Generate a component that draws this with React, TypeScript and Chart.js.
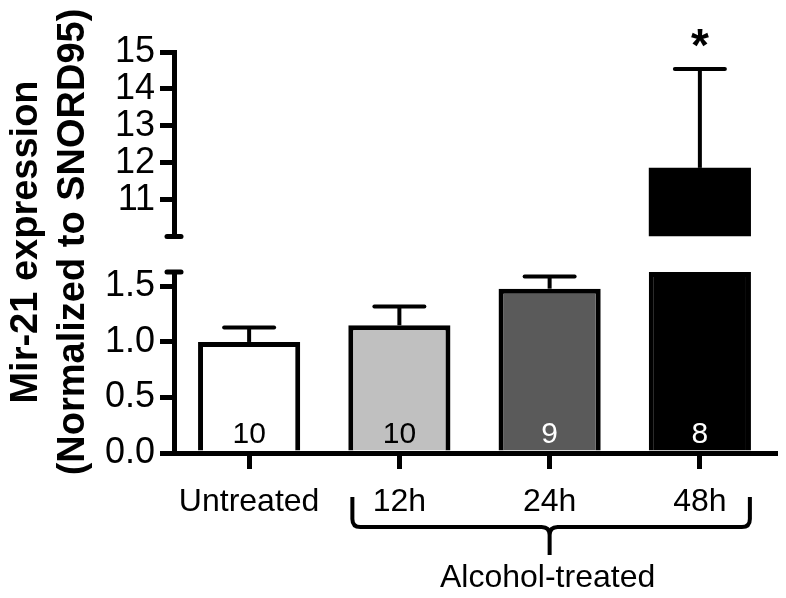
import React, { useEffect, useRef } from 'react';
import { Chart, registerables } from 'chart.js';

Chart.register(...registerables);

const categories = ['Untreated', '12h', '24h', '48h'];
const means = [1.0, 1.15, 1.48, 11.86];
const sems = [0.13, 0.17, 0.11, 2.68];
const sampleSizes = ['10', '10', '9', '8'];
const lowerTicks = [0, 0.5, 1.0, 1.5];
const upperTicks = [11, 12, 13, 14, 15];
const lowerRange = [0, 1.63];
const upperRange = [10, 15];
const groupLabel = 'Alcohol-treated';
const groupMembers = [1, 2, 3];
const significant = [false, false, false, true];
const yTitle = ['Mir-21 expression', '(Normalized to SNORD95)'];
const fills = ['#ffffff', '#c0c0c0', '#5a5a5a', '#000000'];
const countColors = ['#000000', '#000000', '#ffffff', '#ffffff'];

const FONT = "'Liberation Sans', Arial, Helvetica, sans-serif";

const overlay = {
  id: 'overlay',
  afterDatasetsDraw(chart: any) {
    const ctx = chart.ctx as CanvasRenderingContext2D;
    const x = chart.scales.x;
    const yLow = chart.scales.yLow;
    const yHigh = chart.scales.yHigh;
    const axisX = chart.chartArea.left;
    ctx.save();
    ctx.strokeStyle = '#000';
    ctx.fillStyle = '#000';

    // error bars
    means.forEach((m, i) => {
      const cx = x.getPixelForValue(i);
      const s = m > lowerRange[1] ? yHigh : yLow;
      const y0 = s.getPixelForValue(m);
      const y1 = s.getPixelForValue(m + sems[i]);
      ctx.lineWidth = 4;
      ctx.lineCap = 'butt';
      ctx.beginPath();
      ctx.moveTo(cx, y0);
      ctx.lineTo(cx, y1);
      ctx.stroke();
      ctx.lineCap = 'round';
      ctx.beginPath();
      ctx.moveTo(cx - 25, y1);
      ctx.lineTo(cx + 25, y1);
      ctx.stroke();
      if (significant[i]) {
        ctx.font = `bold 46px ${FONT}`;
        ctx.textAlign = 'center';
        ctx.textBaseline = 'alphabetic';
        ctx.fillText('*', cx, y1 - 8);
      }
    });

    // sample sizes
    ctx.font = `30px ${FONT}`;
    ctx.textAlign = 'center';
    ctx.textBaseline = 'alphabetic';
    sampleSizes.forEach((n, i) => {
      ctx.fillStyle = countColors[i];
      ctx.fillText(n, x.getPixelForValue(i), x.top - 10);
    });
    ctx.fillStyle = '#000';

    // axis break marks
    ctx.lineWidth = 5;
    ctx.lineCap = 'round';
    [yHigh.getPixelForValue(upperRange[0]), yLow.getPixelForValue(lowerRange[1])].forEach((py) => {
      ctx.beginPath();
      ctx.moveTo(axisX - 7, py);
      ctx.lineTo(axisX + 7, py);
      ctx.stroke();
    });

    // brace under grouped categories
    const first = x.getPixelForValue(groupMembers[0]);
    const last = x.getPixelForValue(groupMembers[groupMembers.length - 1]);
    const mid = x.getPixelForValue(groupMembers[Math.floor(groupMembers.length / 2)]);
    const xL = first - 47;
    const xR = last + 50;
    const yTop = x.top + 44;
    const yLine = x.top + 74;
    const yStem = x.top + 102;
    ctx.lineWidth = 4;
    ctx.lineCap = 'butt';
    ctx.lineJoin = 'round';
    ctx.beginPath();
    ctx.moveTo(xL, yTop);
    ctx.lineTo(xL, yLine - 8);
    ctx.quadraticCurveTo(xL, yLine, xL + 8, yLine);
    ctx.lineTo(mid - 8, yLine);
    ctx.quadraticCurveTo(mid, yLine, mid, yLine + 8);
    ctx.lineTo(mid, yStem);
    ctx.moveTo(mid, yLine + 8);
    ctx.quadraticCurveTo(mid, yLine, mid + 8, yLine);
    ctx.lineTo(xR - 8, yLine);
    ctx.quadraticCurveTo(xR, yLine, xR, yLine - 8);
    ctx.lineTo(xR, yTop);
    ctx.stroke();
    ctx.font = `32px ${FONT}`;
    ctx.textAlign = 'center';
    ctx.textBaseline = 'alphabetic';
    ctx.fillText(groupLabel, mid - 2, x.top + 134);

    // y title
    ctx.font = `bold 38px ${FONT}`;
    const baselines = [37, 84];
    yTitle.forEach((t, i) => {
      ctx.save();
      ctx.translate(baselines[i], 242);
      ctx.rotate(-Math.PI / 2);
      ctx.textAlign = 'center';
      ctx.textBaseline = 'alphabetic';
      ctx.fillText(t, 0, 0);
      ctx.restore();
    });
    ctx.restore();
  },
};

export default function App() {
  const ref = useRef<HTMLCanvasElement | null>(null);
  useEffect(() => {
    document.body.style.margin = '0';
    if (!ref.current) return;
    const axisCommon = {
      position: 'left' as const,
      stack: 'ybreak',
      afterFit: (s: any) => {
        s.width = 120;
      },
    };
    const tickFont = { family: FONT, size: 36 };
    const chart = new Chart(ref.current, {
      type: 'bar',
      data: {
        labels: categories,
        datasets: [
          {
            data: means.map((v) => Math.min(v, lowerRange[1])),
            yAxisID: 'yLow',
            backgroundColor: fills,
            borderColor: '#000',
            borderWidth: 5,
            grouped: false,
            barPercentage: 0.68,
            categoryPercentage: 1,
          } as any,
          {
            data: means.map((v) => (v > lowerRange[1] ? v : null)),
            yAxisID: 'yHigh',
            base: upperRange[0],
            backgroundColor: fills,
            borderColor: '#000',
            borderWidth: 0,
            grouped: false,
            barPercentage: 0.68,
            categoryPercentage: 1,
          } as any,
        ],
      },
      options: {
        responsive: false,
        animation: false,
        layout: { padding: { left: 54, right: 11, top: 52, bottom: 45 } },
        plugins: { legend: { display: false }, tooltip: { enabled: false } },
        scales: {
          x: {
            type: 'category',
            afterFit: (s: any) => {
              s.height = 100;
            },
            grid: {
              drawOnChartArea: false,
              drawTicks: true,
              tickLength: 16,
              lineWidth: 5,
              color: '#000',
              offset: false,
            },
            border: { display: true, width: 5, color: '#000' },
            ticks: { font: { family: FONT, size: 32 }, color: '#000', padding: 14, maxRotation: 0, autoSkip: false },
          },
          yLow: {
            ...axisCommon,
            type: 'linear',
            weight: 1,
            stackWeight: 181,
            min: lowerRange[0],
            max: lowerRange[1],
            afterBuildTicks: (s: any) => {
              s.ticks = lowerTicks.map((v) => ({ value: v }));
            },
            grid: { drawOnChartArea: false, drawTicks: true, tickLength: 14, lineWidth: 5, color: '#000' },
            border: { display: true, width: 5, color: '#000' },
            ticks: {
              font: tickFont,
              color: '#000',
              padding: 5,
              autoSkip: false,
              callback: (v: any) => Number(v).toFixed(1),
            },
          },
          yGap: {
            ...axisCommon,
            type: 'linear',
            weight: 2,
            stackWeight: 35.5,
            grid: { display: false },
            border: { display: false },
            ticks: { display: false },
          },
          yHigh: {
            ...axisCommon,
            type: 'linear',
            weight: 3,
            stackWeight: 184.5,
            min: upperRange[0],
            max: upperRange[1],
            afterBuildTicks: (s: any) => {
              s.ticks = upperTicks.map((v) => ({ value: v }));
            },
            grid: { drawOnChartArea: false, drawTicks: true, tickLength: 14, lineWidth: 5, color: '#000' },
            border: { display: true, width: 5, color: '#000' },
            ticks: {
              font: tickFont,
              color: '#000',
              padding: 5,
              autoSkip: false,
              callback: (v: any) => String(v),
            },
          },
        } as any,
      },
      plugins: [overlay],
    });
    return () => chart.destroy();
  }, []);
  return (
    <div style={{ width: 786, height: 598, background: '#fff' }}>
      <canvas ref={ref} width={786} height={598} style={{ display: 'block' }} />
    </div>
  );
}
